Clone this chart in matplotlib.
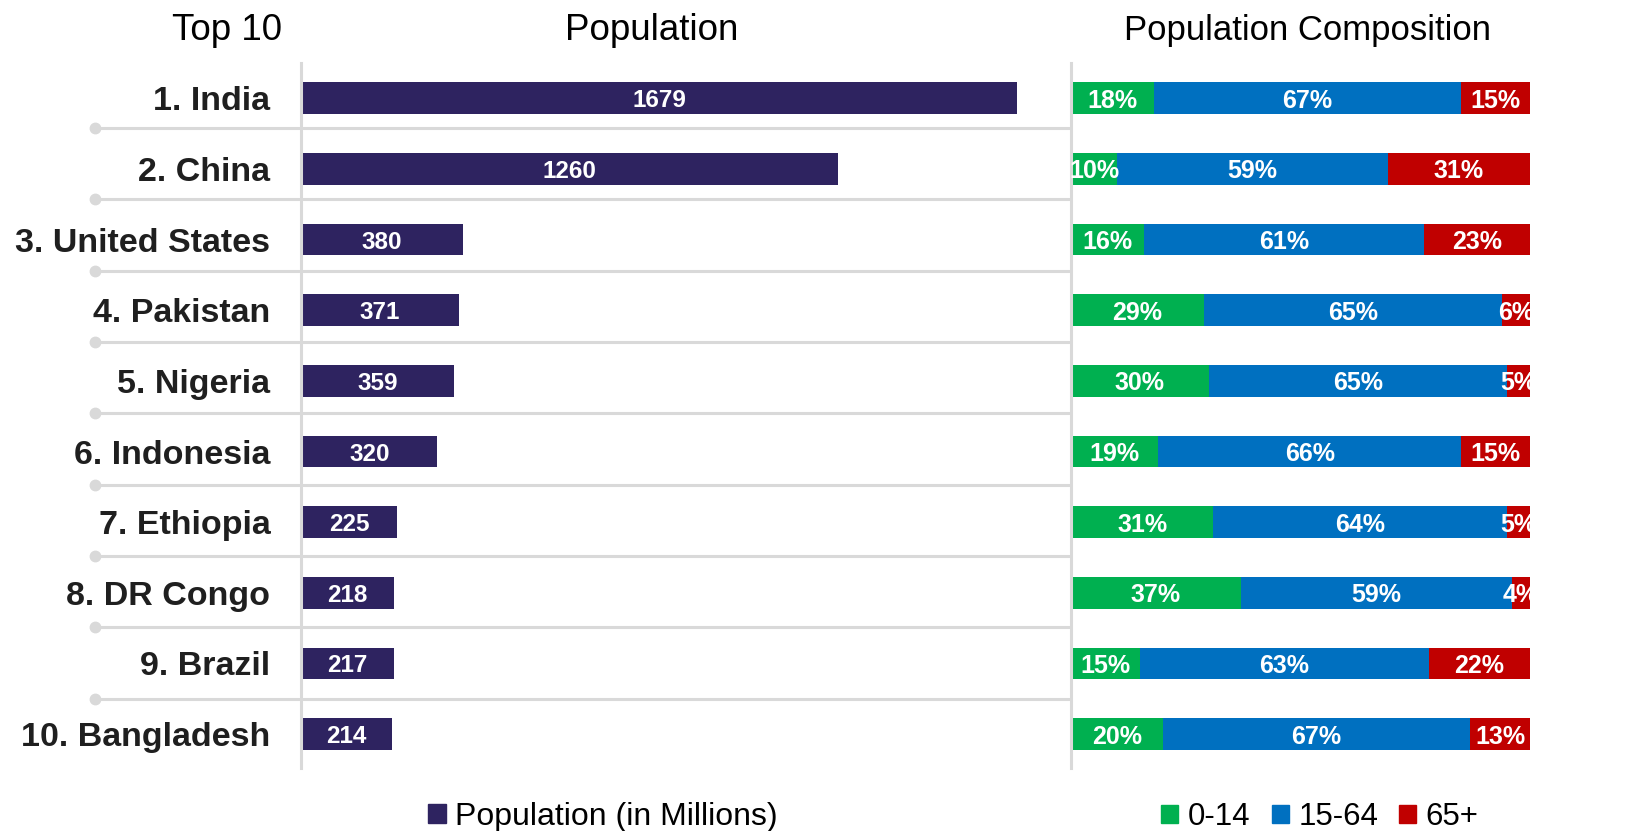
import numpy as np
import matplotlib
matplotlib.use('Agg')
from matplotlib import pyplot as plt
from matplotlib import transforms
from matplotlib.patches import Patch

plt.rcParams['font.family'] = ['Liberation Sans', 'DejaVu Sans']

# 数据
countries = ['1. India', '2. China', '3. United States', '4. Pakistan', '5. Nigeria',
             '6. Indonesia', '7. Ethiopia', '8. DR Congo', '9. Brazil', '10. Bangladesh']
population = [1679, 1260, 380, 371, 359, 320, 225, 218, 217, 214]
age_0_14 = [18, 10, 16, 29, 30, 19, 31, 37, 15, 20]
age_15_64 = [67, 59, 61, 65, 65, 66, 64, 59, 63, 67]
age_65_plus = [15, 31, 23, 6, 5, 15, 5, 4, 22, 13]
comp_labels = ['0-14', '15-64', '65+']

navy = '#2e2360'
comp_colors = ['#00b050', '#0070c0', '#c00000']
grid_c = '#d9d9d9'

W, H = 1637, 831
fig = plt.figure(figsize=(W / 100, H / 100), dpi=100)

bottom = (H - 768) / H
height = 705 / H
ax1 = fig.add_axes([301 / W, bottom, (1040 - 301) / W, height])
ax2 = fig.add_axes([1071 / W, bottom, (W - 1071) / W, height])

y = np.arange(len(countries))
bar_h = 0.45

# 左侧: 人口条形图
ax1.barh(y, population, height=bar_h, color=navy)
for yi, v in zip(y, population):
    ax1.text(v / 2, yi, str(v), ha='center', va='center_baseline', color='white',
             fontsize=17.5, fontweight='bold')
ax1.set_xlim(0, 1733)

# 右侧: 人口构成堆积条形图
left = np.zeros(len(countries))
for vals, c in zip([age_0_14, age_15_64, age_65_plus], comp_colors):
    vals = np.array(vals, dtype=float)
    ax2.barh(y, vals, left=left, height=bar_h, color=c)
    for yi, l, v in zip(y, left, vals):
        ax2.text(l + v / 2, yi, f'{int(v)}%', ha='center', va='center_baseline',
                 color='white', fontsize=18, fontweight='bold', clip_on=True)
    left += vals
ax2.set_xlim(0, (W - 1071) / 4.59)

for ax in (ax1, ax2):
    ax.set_ylim(9.48, -0.5)
    for s in ['top', 'right', 'bottom']:
        ax.spines[s].set_visible(False)
    ax.spines['left'].set_color(grid_c)
    ax.spines['left'].set_linewidth(2.2)
    ax.set_xticks([])
    ax.tick_params(axis='y', length=0)

ax1.set_yticks(y)
ax1.set_yticklabels(countries, fontsize=24.5, fontweight='bold', color='#1f1f1f')
ax1.tick_params(axis='y', pad=22)
ax2.set_yticks([])

# 分隔线
trans = transforms.blended_transform_factory(fig.transFigure, ax1.transData)
for i in range(len(countries) - 1):
    sy = 0.42 + 1.01 * i
    ax1.plot([95 / W, 1.0], [sy, sy], color=grid_c, lw=2.2, transform=trans,
             clip_on=False, zorder=0)
    ax1.plot([95 / W], [sy], marker='o', ms=7.5, color=grid_c, transform=trans,
             clip_on=False, zorder=0)

# 标题
ty = (H - 40) / H
fig.text(227 / W, ty, 'Top 10', ha='center', va='baseline', fontsize=26.5)
fig.text(652 / W, ty, 'Population', ha='center', va='baseline', fontsize=26.5)
fig.text(1307 / W, ty, 'Population Composition', ha='center', va='baseline', fontsize=25)

# 图例
ly = (H - 817) / H
fig.legend(handles=[Patch(color=navy, label='Population (in Millions)')],
           loc='center', bbox_to_anchor=(603 / W, ly), frameon=False,
           fontsize=23, handlelength=0.55, handleheight=0.55, handletextpad=0.3,
           borderpad=0)
fig.legend(handles=[Patch(color=c, label=l) for c, l in zip(comp_colors, comp_labels)],
           loc='center', bbox_to_anchor=(1320 / W, ly), frameon=False,
           ncol=3, fontsize=22.5, handlelength=0.55, handleheight=0.55, handletextpad=0.3,
           columnspacing=0.68, borderpad=0)

fig.savefig('out.png', dpi=100)
